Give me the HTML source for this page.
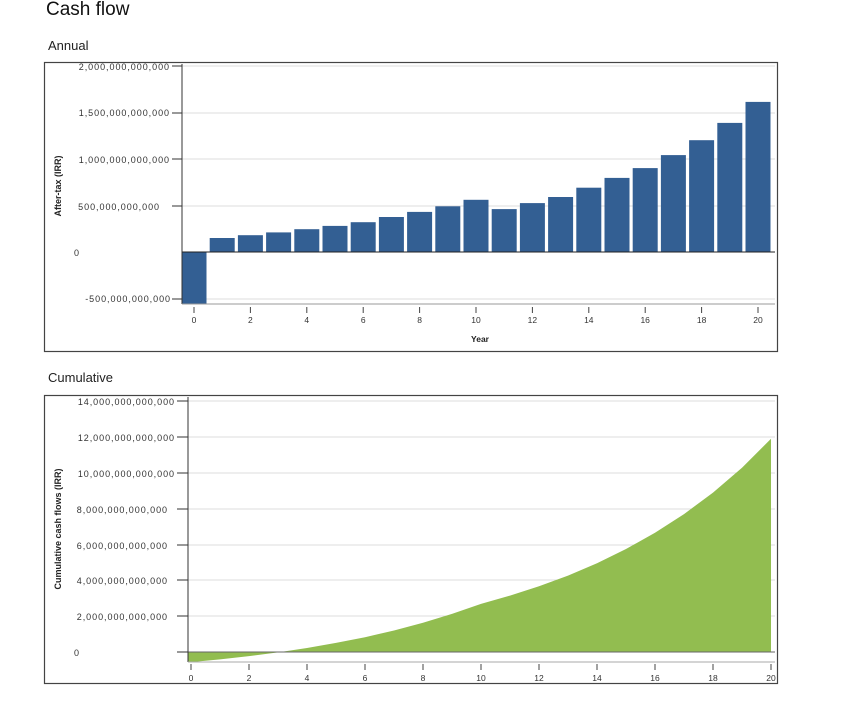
<!DOCTYPE html>
<html><head><meta charset="utf-8"><style>
html,body{margin:0;padding:0;background:#fff;}
svg{display:block;font-family:"Liberation Sans",sans-serif;}
.yl{font-size:9px;letter-spacing:0.95px;fill:#333;}
</style></head><body>
<svg width="850" height="711" viewBox="0 0 850 711" xmlns="http://www.w3.org/2000/svg">
<text x="46" y="15" font-size="19" fill="#111">Cash flow</text>
<text x="48" y="50" font-size="13" fill="#222">Annual</text>
<rect x="44.5" y="62.5" width="733" height="289" fill="none" stroke="#444" stroke-width="1.2"/>
<g stroke="#ddd" stroke-width="1">
<line x1="182" y1="66" x2="775" y2="66"/><line x1="182" y1="113" x2="775" y2="113"/>
<line x1="182" y1="159" x2="775" y2="159"/><line x1="182" y1="206" x2="775" y2="206"/>
<line x1="182" y1="299" x2="775" y2="299"/>
</g>
<g fill="#335f93">
<rect x="182" y="252" width="24.5" height="52"/>
<rect x="209.7" y="238" width="25" height="14"/>
<rect x="237.9" y="235.2" width="25" height="16.8"/>
<rect x="266.1" y="232.4" width="25" height="19.6"/>
<rect x="294.3" y="229.2" width="25" height="22.8"/>
<rect x="322.5" y="225.9" width="25" height="26.1"/>
<rect x="350.7" y="222.2" width="25" height="29.8"/>
<rect x="378.9" y="217" width="25" height="35"/>
<rect x="407.1" y="211.9" width="25" height="40.1"/>
<rect x="435.3" y="206.3" width="25" height="45.7"/>
<rect x="463.5" y="199.8" width="25" height="52.2"/>
<rect x="491.7" y="209.1" width="25" height="42.9"/>
<rect x="519.9" y="203.1" width="25" height="48.9"/>
<rect x="548.1" y="197" width="25" height="55"/>
<rect x="576.3" y="187.7" width="25" height="64.3"/>
<rect x="604.5" y="177.9" width="25" height="74.1"/>
<rect x="632.7" y="168.1" width="25" height="83.9"/>
<rect x="660.9" y="155.1" width="25" height="96.9"/>
<rect x="689.1" y="140.2" width="25" height="111.8"/>
<rect x="717.3" y="122.9" width="25" height="129.1"/>
<rect x="745.5" y="101.9" width="25" height="150.1"/>
</g>
<line x1="182" y1="252" x2="775" y2="252" stroke="#222" stroke-width="1"/>
<line x1="182" y1="64" x2="182" y2="304" stroke="#333" stroke-width="1"/>
<line x1="182" y1="304" x2="775" y2="304" stroke="#999" stroke-width="1"/>
<g stroke="#333" stroke-width="1">
<line x1="172" y1="66" x2="182" y2="66"/><line x1="172" y1="113" x2="182" y2="113"/>
<line x1="172" y1="159" x2="182" y2="159"/><line x1="172" y1="206" x2="182" y2="206"/>
<line x1="172" y1="299" x2="182" y2="299"/>
</g>
<g class="yl" text-anchor="end">
<text x="170" y="70">2,000,000,000,000</text><text x="170" y="116">1,500,000,000,000</text>
<text x="170" y="163">1,000,000,000,000</text><text x="160" y="210">500,000,000,000</text>
<text x="80" y="256">0</text><text x="171" y="302">-500,000,000,000</text>
</g>
<text transform="translate(61,186) rotate(-90)" font-size="9" font-weight="bold" fill="#222" text-anchor="middle">After-tax (IRR)</text>
<g stroke="#444" stroke-width="1">
<line x1="194" y1="307" x2="194" y2="313"/><line x1="250.4" y1="307" x2="250.4" y2="313"/>
<line x1="306.8" y1="307" x2="306.8" y2="313"/><line x1="363.2" y1="307" x2="363.2" y2="313"/>
<line x1="419.6" y1="307" x2="419.6" y2="313"/><line x1="476" y1="307" x2="476" y2="313"/>
<line x1="532.4" y1="307" x2="532.4" y2="313"/><line x1="588.8" y1="307" x2="588.8" y2="313"/>
<line x1="645.2" y1="307" x2="645.2" y2="313"/><line x1="701.6" y1="307" x2="701.6" y2="313"/>
<line x1="758" y1="307" x2="758" y2="313"/>
</g>
<g font-size="8.5" fill="#333" text-anchor="middle">
<text x="194" y="323">0</text><text x="250.4" y="323">2</text><text x="306.8" y="323">4</text>
<text x="363.2" y="323">6</text><text x="419.6" y="323">8</text><text x="476" y="323">10</text>
<text x="532.4" y="323">12</text><text x="588.8" y="323">14</text><text x="645.2" y="323">16</text>
<text x="701.6" y="323">18</text><text x="758" y="323">20</text>
</g>
<text x="480" y="342" font-size="8.5" font-weight="bold" fill="#222" text-anchor="middle">Year</text>

<text x="48" y="382" font-size="13" fill="#222">Cumulative</text>
<rect x="44.5" y="395.5" width="733" height="288" fill="none" stroke="#444" stroke-width="1.2"/>
<g stroke="#ddd" stroke-width="1">
<line x1="188" y1="401" x2="775" y2="401"/><line x1="188" y1="437" x2="775" y2="437"/>
<line x1="188" y1="473" x2="775" y2="473"/><line x1="188" y1="509" x2="775" y2="509"/>
<line x1="188" y1="545" x2="775" y2="545"/><line x1="188" y1="580" x2="775" y2="580"/>
<line x1="188" y1="616" x2="775" y2="616"/>
</g>
<polygon fill="#92bd50" points="188,652 188,662.1 191,662.1 220,659.4 249,656.1 278,652.4 307,648 336,642.9 365,637.2 394,630.5 423,622.7 452,613.9 481,603.9 510,595.6 539,586.2 568,575.6 597,563.2 626,549 655,532.8 684,514.1 713,492.6 742,467.7 771,438.8 771,652"/>
<line x1="188" y1="652" x2="775" y2="652" stroke="#666" stroke-width="1"/>
<line x1="188" y1="397" x2="188" y2="662" stroke="#333" stroke-width="1"/>
<line x1="188" y1="662" x2="775" y2="662" stroke="#aaa" stroke-width="1"/>
<g stroke="#333" stroke-width="1">
<line x1="177" y1="401" x2="188" y2="401"/><line x1="177" y1="437" x2="188" y2="437"/>
<line x1="177" y1="473" x2="188" y2="473"/><line x1="177" y1="509" x2="188" y2="509"/>
<line x1="177" y1="545" x2="188" y2="545"/><line x1="177" y1="580" x2="188" y2="580"/>
<line x1="177" y1="616" x2="188" y2="616"/><line x1="177" y1="652" x2="188" y2="652"/>
</g>
<g class="yl" text-anchor="end">
<text x="175" y="405">14,000,000,000,000</text><text x="175" y="441">12,000,000,000,000</text>
<text x="175" y="477">10,000,000,000,000</text><text x="168" y="513">8,000,000,000,000</text>
<text x="168" y="549">6,000,000,000,000</text><text x="168" y="584">4,000,000,000,000</text>
<text x="168" y="620">2,000,000,000,000</text><text x="80" y="656">0</text>
</g>
<text transform="translate(61,529) rotate(-90)" font-size="9" font-weight="bold" fill="#222" text-anchor="middle">Cumulative cash flows (IRR)</text>
<g stroke="#444" stroke-width="1">
<line x1="191" y1="664" x2="191" y2="670"/><line x1="249" y1="664" x2="249" y2="670"/>
<line x1="307" y1="664" x2="307" y2="670"/><line x1="365" y1="664" x2="365" y2="670"/>
<line x1="423" y1="664" x2="423" y2="670"/><line x1="481" y1="664" x2="481" y2="670"/>
<line x1="539" y1="664" x2="539" y2="670"/><line x1="597" y1="664" x2="597" y2="670"/>
<line x1="655" y1="664" x2="655" y2="670"/><line x1="713" y1="664" x2="713" y2="670"/>
<line x1="771" y1="664" x2="771" y2="670"/>
</g>
<g font-size="8.5" fill="#333" text-anchor="middle">
<text x="191" y="681">0</text><text x="249" y="681">2</text><text x="307" y="681">4</text>
<text x="365" y="681">6</text><text x="423" y="681">8</text><text x="481" y="681">10</text>
<text x="539" y="681">12</text><text x="597" y="681">14</text><text x="655" y="681">16</text>
<text x="713" y="681">18</text><text x="771" y="681">20</text>
</g>
</svg>
</body></html>
